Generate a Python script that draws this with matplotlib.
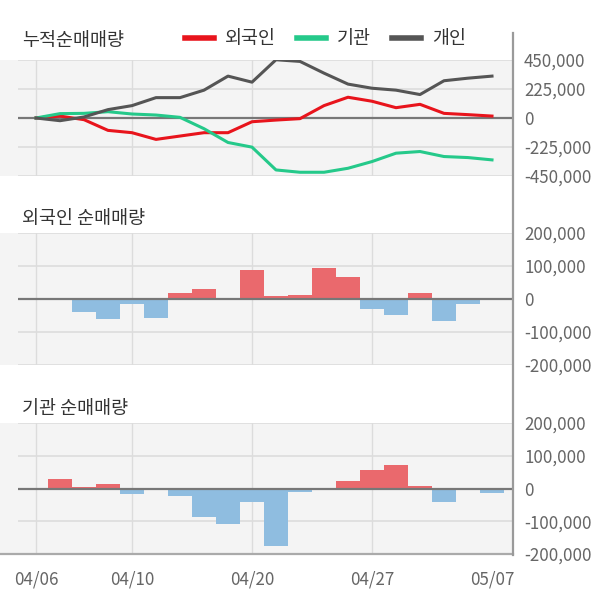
import matplotlib
matplotlib.use('Agg')
import matplotlib.pyplot as plt
from matplotlib.lines import Line2D

plt.rcParams['font.family'] = ['Noto Sans CJK KR', 'DejaVu Sans']

# trading days (04/15, 04/30, 05/01, 05/05 closed)
dates = ['04/06', '04/07', '04/08', '04/09', '04/10', '04/13', '04/14', '04/16', '04/17', '04/20',
         '04/21', '04/22', '04/23', '04/24', '04/27', '04/28', '04/29', '05/04', '05/06', '05/07']
tick_idx = [0, 4, 9, 14, 19]

# cumulative net buying
foreign_cum = [0, 15000, -13000, -96000, -114000, -166000, -140000, -114000, -114000, -29000,
               -16000, -5000, 96000, 161000, 130000, 80000, 106000, 36000, 26000, 15000]
inst_cum = [0, 34000, 36000, 49000, 31000, 23000, 5000, -83000, -190000, -226000,
            -403000, -421000, -421000, -390000, -338000, -273000, -260000, -299000, -307000, -325000]
indiv_cum = [0, -21000, 8000, 65000, 96000, 158000, 158000, 216000, 325000, 278000,
             452000, 439000, 348000, 263000, 231000, 216000, 182000, 289000, 309000, 325000]

# daily net buying
foreign_daily = [0, 4000, -38000, -62000, -16000, -57000, 19000, 31000, 4000, 87000,
                 10000, 13000, 93000, 68000, -29000, -48000, 19000, -66000, -14000, 0]
inst_daily = [0, 29000, 4000, 13000, -17000, 0, -23000, -87000, -108000, -41000,
              -175000, -10000, 0, 22000, 56000, 71000, 7000, -41000, -6000, -13000]

BG = '#f4f4f4'
GRID = '#dcdcdc'
ZERO = '#777777'
TICK = '#666666'
UP = '#ea696d'
DOWN = '#8fbde0'
TITLE_FS = 13.3
TICK_FS = 12.2

W, H = 600, 604
fig = plt.figure(figsize=(W / 100, H / 100), dpi=100)

x = list(range(len(dates)))
x_left, x_right = -1.5, 19.875


def make_panel(top_px, bottom_px, yticks, ylabels):
    ax = fig.add_axes([0, 1 - bottom_px / H, 513 / W, (bottom_px - top_px) / H])
    ax.set_facecolor(BG)
    ax.set_xlim(x_left, x_right)
    ax.set_ylim(yticks[-1], yticks[0])
    for s in ax.spines.values():
        s.set_visible(False)
    # grid
    for i in tick_idx[:-1]:
        ax.axvline(i, color=GRID, lw=1, zorder=0)
    for y in yticks:
        if y != 0:
            ax.hlines(y, -0.75, x_right, color=GRID, lw=1.2, zorder=0)
    ax.hlines(0, -0.75, x_right, color=ZERO, lw=1.6, zorder=4)
    ax.yaxis.tick_right()
    ax.set_yticks(yticks)
    ax.set_yticklabels(ylabels)
    ax.tick_params(axis='y', length=0, pad=8, labelsize=TICK_FS, labelcolor=TICK)
    ax.set_xticks(tick_idx)
    ax.set_xticklabels([])
    ax.tick_params(axis='x', length=0)
    return ax


# cumulative panel
ax1 = make_panel(60, 176, [450000, 225000, 0, -225000, -450000],
                 ['450,000', '225,000', '0', '-225,000', '-450,000'])
l1, = ax1.plot(x, foreign_cum, color='#e8141c', lw=2.2, label='외국인', zorder=5)
l2, = ax1.plot(x, inst_cum, color='#25c98a', lw=2.2, label='기관', zorder=5)
l3, = ax1.plot(x, indiv_cum, color='#555555', lw=2.2, label='개인', zorder=5)
fig.text(22 / W, 1 - 41 / H, '누적순매매량', fontsize=TITLE_FS, color='#333333', va='center')
leg = fig.legend(handles=[l1, l2, l3], loc='center left', bbox_to_anchor=(185 / W, 1 - 39 / H),
                 ncol=3, frameon=False, fontsize=TITLE_FS, handlelength=1.55, handletextpad=0.6,
                 columnspacing=1.15, borderpad=0, borderaxespad=0, labelcolor='#333333')
for h in leg.legend_handles:
    h.set_linewidth(4)

# foreign daily
ax2 = make_panel(233, 365, [200000, 100000, 0, -100000, -200000],
                 ['200,000', '100,000', '0', '-100,000', '-200,000'])
ax2.bar(x, foreign_daily, width=0.96, color=[UP if v > 0 else DOWN for v in foreign_daily], zorder=3)
fig.text(22 / W, 1 - 219 / H, '외국인 순매매량', fontsize=TITLE_FS, color='#333333', va='center')

# institution daily
ax3 = make_panel(423, 554, [200000, 100000, 0, -100000, -200000],
                 ['200,000', '100,000', '0', '-100,000', '-200,000'])
ax3.bar(x, inst_daily, width=0.96, color=[UP if v > 0 else DOWN for v in inst_daily], zorder=3)
ax3.spines['bottom'].set_visible(True)
ax3.spines['bottom'].set_color('#aaaaaa')
ax3.spines['bottom'].set_linewidth(1.6)
ax3.set_xticklabels([dates[i] for i in tick_idx])
ax3.tick_params(axis='x', length=0, pad=12, labelsize=TICK_FS, labelcolor=TICK)
fig.text(22 / W, 1 - 409 / H, '기관 순매매량', fontsize=TITLE_FS, color='#333333', va='center')

# continuous right border
fig.add_artist(Line2D([513 / W, 513 / W], [1 - 33 / H, 1 - 555 / H], color='#9a9a9a', lw=1.6))

fig.savefig('out.png', dpi=100)
